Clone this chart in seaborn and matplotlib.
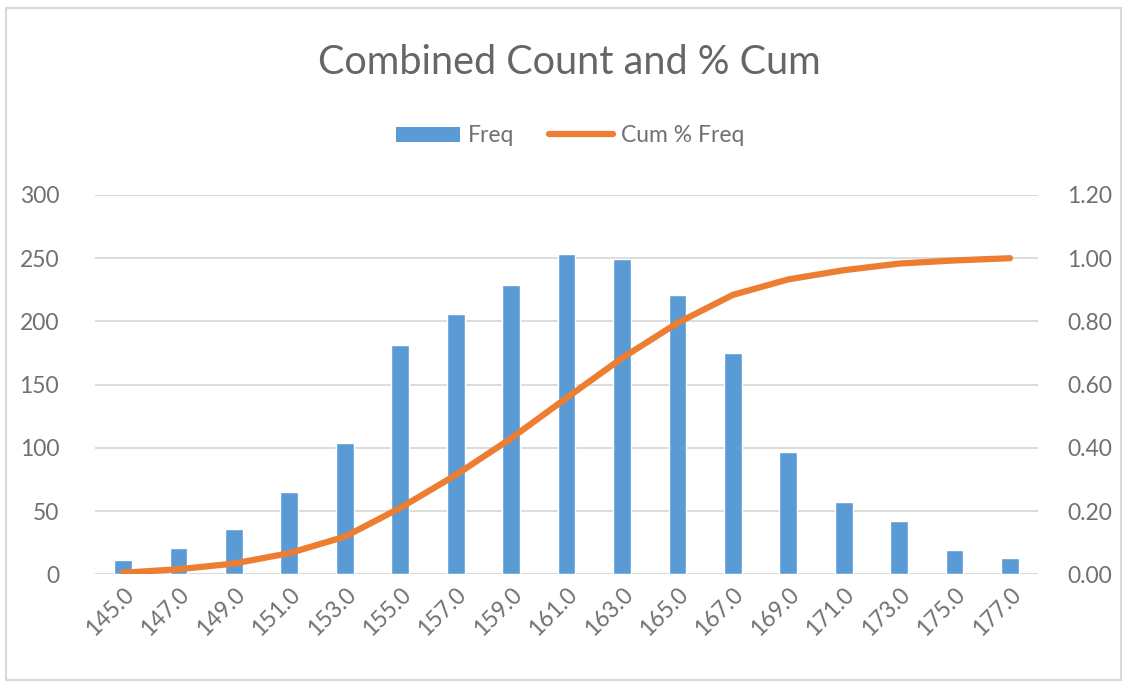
import numpy as np
import pandas as pd
import matplotlib
matplotlib.use("Agg")
import matplotlib.pyplot as plt
from matplotlib.patches import Rectangle
from matplotlib.lines import Line2D
import seaborn as sns

# Height classes (cm), counts per class and cumulative share
bins = ["145.0", "147.0", "149.0", "151.0", "153.0", "155.0", "157.0", "159.0", "161.0",
        "163.0", "165.0", "167.0", "169.0", "171.0", "173.0", "175.0", "177.0"]
freq = [11, 21, 36, 65, 104, 181, 206, 229, 253, 249, 221, 175, 97, 57, 42, 19, 13]
cum_pct = [0.005, 0.016, 0.034, 0.067, 0.119, 0.210, 0.314, 0.430, 0.558,
           0.684, 0.795, 0.884, 0.933, 0.962, 0.983, 0.993, 1.000]

left_ticks = [0, 50, 100, 150, 200, 250, 300]
right_ticks = [0.0, 0.2, 0.4, 0.6, 0.8, 1.0, 1.2]

BLUE = "#5b9bd5"
ORANGE = "#ed7d31"
GRID = "#d9d9d9"
TEXT = "#707070"

sns.set_theme(style="white")
plt.rcParams["font.family"] = ["Lato", "DejaVu Sans"]

df = pd.DataFrame({"bin": bins, "freq": freq, "cum": cum_pct})

fig = plt.figure(figsize=(11.27, 6.82), dpi=100)
ax = fig.add_axes([0.0846, 0.1579, 0.8362, 0.5562])

sns.barplot(data=df, x="bin", y="freq", color=BLUE, saturation=1.0,
            width=0.32, ax=ax, zorder=3)
ax.set_xlim(-0.5, len(bins) - 0.5)
ax.set_ylim(0, 300)
ax.set_yticks(left_ticks)
ax.set_yticklabels([str(t) for t in left_ticks])
ax.yaxis.grid(True, color=GRID, linewidth=1.3, zorder=0)
ax.set_axisbelow(True)
ax.set_xlabel("")
ax.set_ylabel("")
for s in ax.spines.values():
    s.set_visible(False)
ax.axhline(0, color=GRID, linewidth=1.3, zorder=1)
ax.tick_params(axis="y", length=0, pad=26, labelsize=16.5, labelcolor=TEXT)
ax.tick_params(axis="x", length=0, pad=7, labelsize=16.5, labelcolor=TEXT)
ax.set_xticks(range(len(bins)))
ax.set_xticklabels(bins, rotation=45, ha="right", rotation_mode="anchor")

ax2 = ax.twinx()
sns.lineplot(x=np.arange(len(bins)), y=df["cum"], color=ORANGE, linewidth=4.5,
             ax=ax2, sort=False, zorder=4, solid_capstyle="round")
ax2.set_ylim(0, 1.2)
ax2.set_yticks(right_ticks)
ax2.set_yticklabels([f"{t:.2f}" for t in right_ticks])
ax2.set_ylabel("")
for s in ax2.spines.values():
    s.set_visible(False)
ax2.tick_params(axis="y", length=0, pad=21, labelsize=16.5, labelcolor=TEXT)
ax2.grid(False)

fig.text(0.505, 0.909, "Combined Count and % Cum", ha="center", va="center",
         fontsize=28.5, color="#666666")

handles = [Rectangle((0, 0), 1, 1, facecolor=BLUE, edgecolor="none"),
           Line2D([0], [0], color=ORANGE, linewidth=4.5)]
fig.legend(handles, ["Freq", "Cum % Freq"], loc="center", bbox_to_anchor=(0.506, 0.801),
           ncol=2, frameon=False, fontsize=16.5, labelcolor=TEXT, handlelength=2.8,
           handleheight=0.65, handletextpad=0.35, columnspacing=1.5)

fig.add_artist(Rectangle((6 / 1127, 2 / 682), 1115 / 1127, 672 / 682,
                         transform=fig.transFigure, fill=False,
                         edgecolor="#d9d9d9", linewidth=1.5))

fig.savefig("out.png", dpi=100, facecolor="white")
